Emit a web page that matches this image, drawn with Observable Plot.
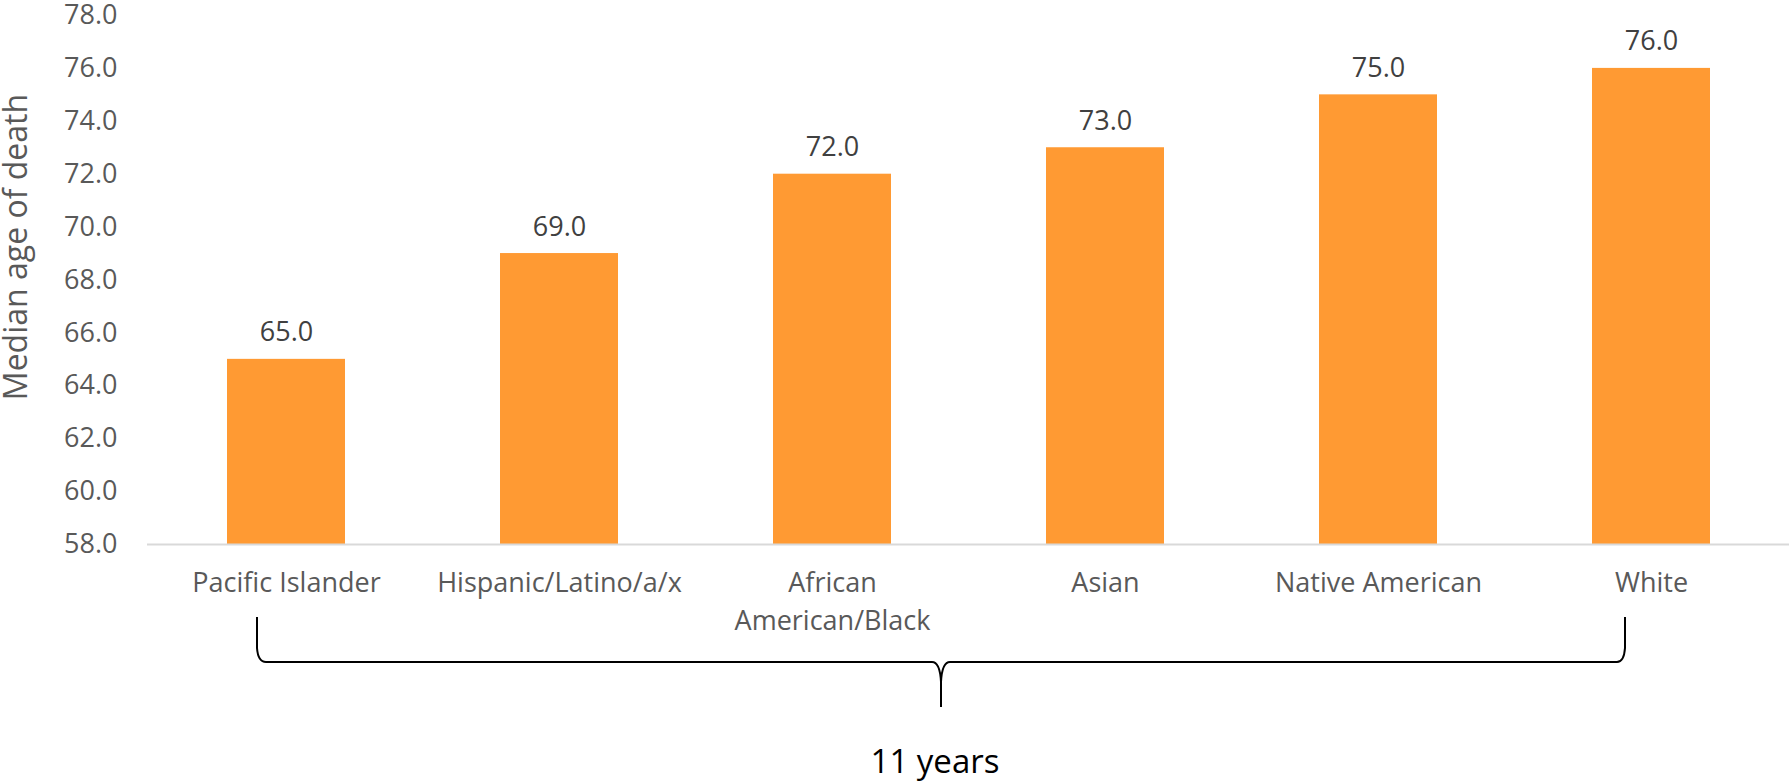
<!DOCTYPE html>
<html>
<head>
<meta charset="utf-8">
<script src="https://cdn.jsdelivr.net/npm/d3@7"></script>
<script src="https://cdn.jsdelivr.net/npm/@observablehq/plot@0.6"></script>
<style>
  html, body { margin: 0; padding: 0; background: #fff; }
  #chart { width: 1791px; height: 781px; }
</style>
</head>
<body>
<div id="chart"></div>
<script>
// ---- data ----
const categories = ["Pacific Islander", "Hispanic/Latino/a/x", "African American/Black", "Asian", "Native American", "White"];
const medianAge = [65.0, 69.0, 72.0, 73.0, 75.0, 76.0];
const yTicks = [58, 60, 62, 64, 66, 68, 70, 72, 74, 76, 78];
const yDomain = [58, 78];
const categoryLabels = ["Pacific Islander", "Hispanic/Latino/a/x", "African\nAmerican/Black", "Asian", "Native American", "White"];
const yTitle = "Median age of death";
const spanLabel = "11 years";

const data = categories.map((c, i) => ({category: c, value: medianAge[i]}));
const labelOf = new Map(categories.map((c, i) => [c, categoryLabels[i]]));

const FONT = "'Open Sans', sans-serif";

const plot = Plot.plot({
  width: 1791,
  height: 781,
  marginLeft: 147,
  marginRight: 2,
  marginTop: 15,
  marginBottom: 237,
  style: {fontFamily: FONT, background: "#fff", overflow: "visible"},
  x: {domain: categories, paddingInner: 0.569, paddingOuter: 0.2845, axis: null},
  y: {domain: yDomain, axis: null},
  marks: [
    Plot.axisY({ticks: yTicks, tickFormat: d => d.toFixed(1), tickSize: 0, tickPadding: 30,
      fontSize: 27, fill: "#595959", label: null}),
    Plot.axisX({tickSize: 0, tickPadding: 21, fontSize: 27, fill: "#595959", label: null,
      lineHeight: 1.39, tickFormat: d => labelOf.get(d)}),
    Plot.barY(data, {x: "category", y1: yDomain[0], y2: "value", fill: "#ff9a33"}),
    Plot.ruleY([yDomain[0]], {stroke: "#d9d9d9", strokeWidth: 2}),
    Plot.text(data, {x: "category", y: "value", text: d => d.value.toFixed(1),
      lineAnchor: "bottom", dy: -18, fontSize: 27, fill: "#404040"}),
    Plot.text([yTitle], {frameAnchor: "left", textAnchor: "middle", lineAnchor: "middle",
      rotate: -90, dx: -131, dy: -33, fontSize: 32, fill: "#595959"})
  ]
});

document.getElementById("chart").appendChild(plot);

// ---- brace annotation spanning the first to last category ----
const xs = plot.scale("x");
const ys = plot.scale("y");
const base = ys.apply(yDomain[0]);
const xL = xs.apply(categories[0]) + 30;
const xR = xs.apply(categories[categories.length - 1]) + 33;
const xc = (xL + xR) / 2;
const yTop = base + 73, yMid = base + 118, yJoin = base + 138, yTip = base + 163;
const p = d3.path();
p.moveTo(xL, yTop);
p.lineTo(xL, yMid - 14);
p.quadraticCurveTo(xL + 1, yMid, xL + 9, yMid);
p.lineTo(xc - 9, yMid);
p.quadraticCurveTo(xc - 1, yMid, xc, yJoin);
p.lineTo(xc, yTip);
p.moveTo(xc, yJoin);
p.quadraticCurveTo(xc + 1, yMid, xc + 9, yMid);
p.lineTo(xR - 8, yMid);
p.quadraticCurveTo(xR - 1, yMid, xR, yMid - 14);
p.lineTo(xR, yTop);

const svg = d3.select(plot);
svg.append("path")
  .attr("d", p.toString())
  .attr("fill", "none")
  .attr("stroke", "#000")
  .attr("stroke-width", 2);
svg.append("text")
  .attr("x", xc - 6)
  .attr("y", base + 229)
  .attr("text-anchor", "middle")
  .attr("font-family", FONT)
  .attr("font-size", 33)
  .attr("fill", "#000")
  .text(spanLabel);
</script>
</body>
</html>
